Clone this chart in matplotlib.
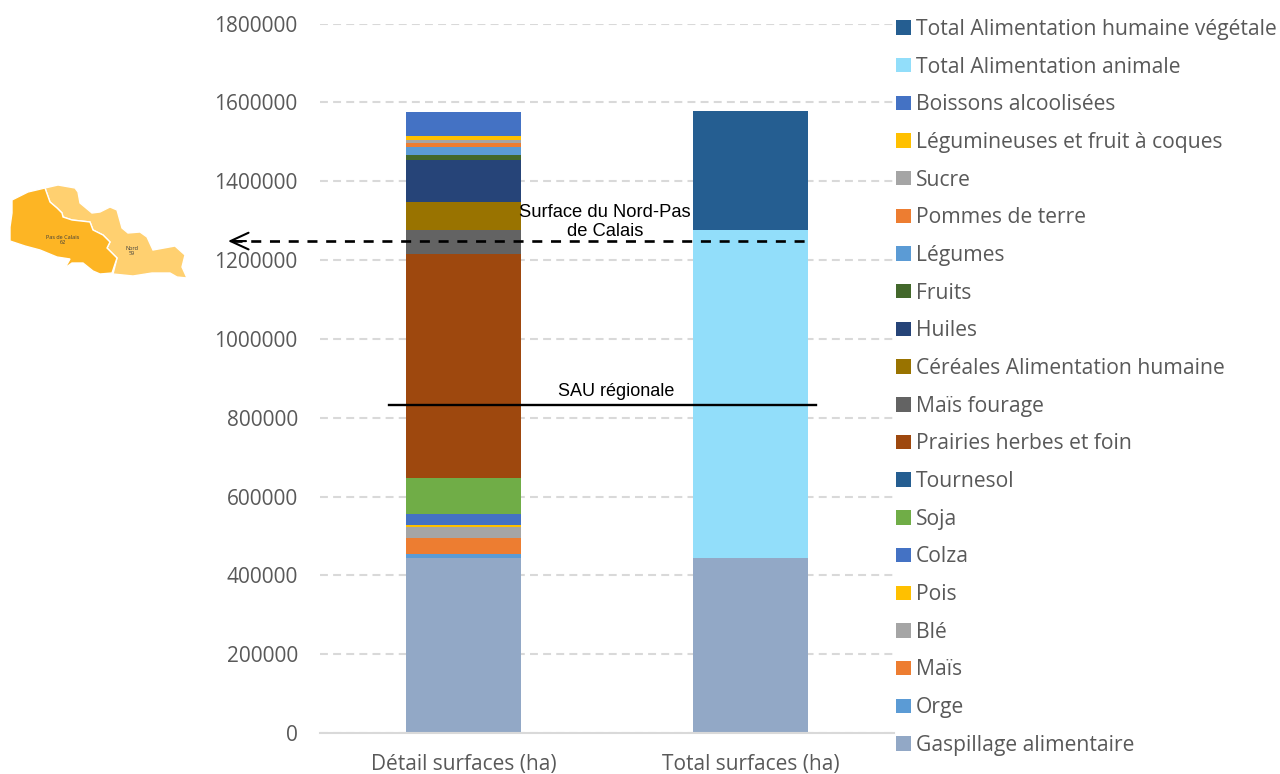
import numpy as np
import matplotlib
matplotlib.use('Agg')
import matplotlib.pyplot as plt
from matplotlib.patches import Polygon, Patch

plt.rcParams['font.family'] = ['Open Sans', 'DejaVu Sans']

categories = ['Détail surfaces (ha)', 'Total surfaces (ha)']

# series from bottom to top, (detail, total)
series_names = ['Gaspillage alimentaire', 'Orge', 'Maïs', 'Blé', 'Pois', 'Colza', 'Soja', 'Tournesol',
                'Prairies herbes et foin', 'Maïs fourage', 'Céréales Alimentation humaine', 'Huiles', 'Fruits',
                'Légumes', 'Pommes de terre', 'Sucre', 'Légumineuses et fruit à coques', 'Boissons alcoolisées',
                'Total Alimentation animale', 'Total Alimentation humaine végétale']
detail_values = [444600, 10000, 40000, 27000, 6000, 28000, 91000, 1000,
                 568000, 61000, 70000, 106000, 13000,
                 20000, 10000, 10000, 9000, 60000, 0, 0]
total_values = [444600, 0, 0, 0, 0, 0, 0, 0, 0, 0, 0, 0, 0, 0, 0, 0, 0, 0, 831400, 301000]
colors = ['#92A8C6', '#5B9BD5', '#ED7D31', '#A5A5A5', '#FFC000', '#4472C4', '#70AD47', '#255E91',
          '#9E480E', '#636363', '#997300', '#264478', '#43682B',
          '#5B9BD5', '#ED7D31', '#A5A5A5', '#FFC000', '#4472C4',
          '#92DEFA', '#255E91']

y_ticks = list(range(0, 2000000, 200000))
sau_value = 833000
surface_value = 1248000

# map outlines, in pixels of the picture
pas_de_calais_x = [12, 28, 45, 50, 57, 62, 63, 72, 90, 93, 103, 110, 107, 117, 112, 100, 93, 83, 72, 65, 70, 57, 40, 25, 10, 10, 12]
pas_de_calais_y = [200, 192, 188, 202, 208, 213, 217, 220, 222, 230, 235, 242, 248, 258, 273, 274, 271, 263, 263, 268, 259, 257, 250, 246, 241, 227, 213]
nord_x = [45, 58, 75, 78, 80, 92, 100, 110, 117, 122, 128, 140, 147, 153, 175, 185, 182, 187, 177, 170, 152, 133, 113,
          117, 107, 110, 103, 93, 90, 72, 63, 62, 57, 50]
nord_y = [188, 185, 188, 192, 203, 213, 212, 207, 210, 228, 233, 232, 237, 250, 246, 255, 267, 278, 277, 273, 273, 276, 274,
          258, 248, 242, 235, 230, 222, 220, 217, 213, 208, 202]

fig = plt.figure(figsize=(12.8, 7.74), dpi=100)
W, H = 1280, 774
ax = fig.add_axes([320 / W, 1 - 733 / H, (894 - 320) / W, (733 - 23.5) / H])

x = np.arange(len(categories))
bottom = np.zeros(2)
handles = []
for name, d, t, c in zip(series_names, detail_values, total_values, colors):
    vals = np.array([d, t])
    ax.bar(x, vals, 0.4, bottom=bottom, color=c, linewidth=0, zorder=2)
    bottom = bottom + vals
    handles.append(Patch(facecolor=c, label=name))

ax.set_xlim(-0.5, 1.5)
ax.set_ylim(0, 1800000)
ax.set_yticks(y_ticks, [str(v) for v in y_ticks])
ax.set_xticks(x, categories)
ax.tick_params(axis='both', length=0, labelsize=15, labelcolor='#595959')
ax.tick_params(axis='y', pad=16)
ax.tick_params(axis='x', pad=15)
ax.grid(axis='y', color='#D9D9D9', linestyle=(0, (3.8, 2.5)), linewidth=1.5, zorder=0)
ax.set_axisbelow(True)
for s in ['top', 'right', 'left']:
    ax.spines[s].set_visible(False)
ax.spines['bottom'].set_color('#D9D9D9')
ax.spines['bottom'].set_linewidth(1.5)

# reference lines, spanning past the bars
ax.plot([-0.26, 1.228], [sau_value, sau_value], color='black', linewidth=1.7, zorder=4)
ax.text(0.533, 866000, 'SAU régionale', fontsize=13, family=['Liberation Sans'], ha='center', va='center', zorder=5)

ovl = fig.add_axes([0, 0, 1, 1])
ovl.set_xlim(0, W)
ovl.set_ylim(H, 0)
ovl.axis('off')
ovl.patch.set_alpha(0)

y_line = H - ax.transData.transform((0, surface_value))[1]
ovl.plot([232, 810], [y_line, y_line], color='black', linewidth=1.9, linestyle=(0, (3.8, 3.3)), zorder=4)
ovl.annotate('', xy=(228, y_line), xytext=(246, y_line),
             arrowprops=dict(arrowstyle='->,head_length=1.3,head_width=0.6', color='black', lw=1.5, shrinkA=0, shrinkB=0))
ovl.text(605, 222, 'Surface du Nord-Pas\nde Calais', fontsize=13.2, family=['Liberation Sans'], ha='center', va='center',
         linespacing=1.1, zorder=5)

ovl.add_patch(Polygon(np.column_stack([nord_x, nord_y]), closed=True, facecolor='#FFD070', edgecolor='white', linewidth=1))
ovl.add_patch(Polygon(np.column_stack([pas_de_calais_x, pas_de_calais_y]), closed=True, facecolor='#FDB524', edgecolor='white', linewidth=1))
ovl.text(63, 240, 'Pas de Calais\n62', fontsize=4, color='#3B3B3B', ha='center', va='center', linespacing=1)
ovl.text(132, 251, 'Nord\n59', fontsize=4, color='#3B3B3B', ha='center', va='center', linespacing=1)

leg = fig.legend(handles=handles[::-1], loc='upper left', bbox_to_anchor=(888 / W, 1 - 10.5 / H), frameon=False,
                 fontsize=15.2, labelcolor='#595959', handlelength=0.67, handleheight=0.67, handletextpad=0.24,
                 labelspacing=0.79, borderpad=0.4, borderaxespad=0)

fig.savefig('out.png', dpi=100, facecolor='white')
plt.close()
